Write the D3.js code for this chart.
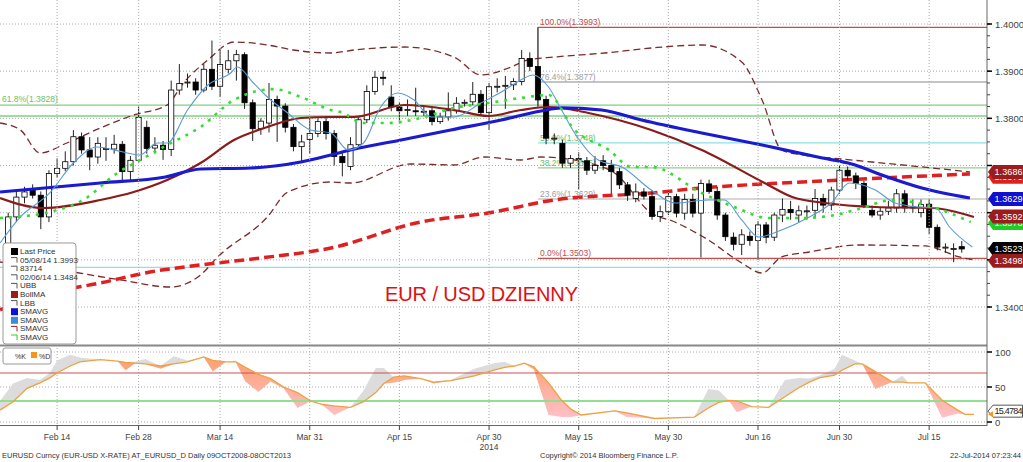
<!DOCTYPE html>
<html><head><meta charset="utf-8">
<script src="https://cdn.jsdelivr.net/npm/d3@7"></script>
<style>body{margin:0;background:#fff}svg{display:block;font-family:"Liberation Sans",Arial,sans-serif}</style>
</head><body><svg id="c" width="1023" height="462"></svg>
<script>
// ---------- DATA ----------
const open  = [1.3535,1.3591,1.3633,1.3648,1.3637,1.3591,1.3683,1.3694,1.3708,1.3761,1.3733,1.3718,1.3736,1.3735,1.3745,1.3687,1.3711,1.3781,1.3737,1.3743,1.3734,1.3860,1.3877,1.3877,1.3860,1.3904,1.3868,1.3904,1.3922,1.3935,1.3833,1.3778,1.3790,1.3840,1.3826,1.3781,1.3740,1.3755,1.3768,1.3793,1.3768,1.3719,1.3698,1.3744,1.3797,1.3857,1.3887,1.3845,1.3824,1.3819,1.3816,1.3815,1.3816,1.3793,1.3803,1.3816,1.3834,1.3835,1.3851,1.3812,1.3868,1.3870,1.3871,1.3878,1.3927,1.3910,1.3840,1.3758,1.3747,1.3705,1.3715,1.3710,1.3690,1.3710,1.3700,1.3687,1.3659,1.3630,1.3644,1.3634,1.3592,1.3602,1.3634,1.3599,1.3628,1.3599,1.3661,1.3645,1.3595,1.3548,1.3533,1.3550,1.3541,1.3574,1.3548,1.3595,1.3607,1.3595,1.3604,1.3605,1.3630,1.3616,1.3648,1.3690,1.3678,1.3662,1.3605,1.3595,1.3603,1.3610,1.3640,1.3612,1.3600,1.3618,1.3569,1.3527,1.3524,1.3528];
const high  = [1.3600,1.3650,1.3655,1.3660,1.3645,1.3690,1.3715,1.3730,1.3775,1.3770,1.3760,1.3760,1.3760,1.3765,1.3752,1.3720,1.3825,1.3795,1.3760,1.3752,1.3880,1.3915,1.3895,1.3885,1.3915,1.3965,1.3945,1.3945,1.3945,1.3940,1.3840,1.3800,1.3875,1.3848,1.3832,1.3788,1.3765,1.3800,1.3800,1.3805,1.3775,1.3730,1.3760,1.3805,1.3870,1.3900,1.3900,1.3870,1.3835,1.3840,1.3865,1.3825,1.3822,1.3812,1.3855,1.3845,1.3840,1.3877,1.3860,1.3875,1.3885,1.3890,1.3885,1.3945,1.3940,1.3993,1.3848,1.3768,1.3755,1.3722,1.3728,1.3718,1.3720,1.3722,1.3712,1.3695,1.3665,1.3662,1.3652,1.3648,1.3615,1.3645,1.3640,1.3640,1.3640,1.3670,1.3670,1.3655,1.3600,1.3558,1.3565,1.3560,1.3582,1.3580,1.3600,1.3630,1.3625,1.3615,1.3615,1.3650,1.3640,1.3655,1.3700,1.3698,1.3685,1.3668,1.3615,1.3612,1.3625,1.3650,1.3648,1.3628,1.3628,1.3628,1.3575,1.3535,1.3535,1.3540];
const low   = [1.3520,1.3580,1.3620,1.3630,1.3565,1.3580,1.3675,1.3688,1.3700,1.3725,1.3690,1.3704,1.3710,1.3725,1.3665,1.3665,1.3705,1.3725,1.3725,1.3712,1.3720,1.3850,1.3865,1.3850,1.3855,1.3860,1.3845,1.3895,1.3880,1.3820,1.3752,1.3765,1.3770,1.3750,1.3770,1.3730,1.3705,1.3725,1.3760,1.3755,1.3700,1.3677,1.3690,1.3735,1.3790,1.3850,1.3870,1.3815,1.3795,1.3805,1.3805,1.3805,1.3785,1.3788,1.3795,1.3810,1.3825,1.3828,1.3805,1.3775,1.3855,1.3820,1.3860,1.3870,1.3900,1.3825,1.3745,1.3745,1.3695,1.3695,1.3650,1.3680,1.3682,1.3690,1.3640,1.3650,1.3625,1.3622,1.3628,1.3585,1.3580,1.3595,1.3590,1.3585,1.3590,1.3505,1.3640,1.3585,1.3540,1.3520,1.3510,1.3530,1.3500,1.3535,1.3540,1.3580,1.3585,1.3580,1.3585,1.3590,1.3600,1.3605,1.3640,1.3670,1.3650,1.3610,1.3590,1.3585,1.3595,1.3600,1.3600,1.3600,1.3590,1.3555,1.3520,1.3515,1.3495,1.3515];
const close = [1.3591,1.3633,1.3644,1.3637,1.3591,1.3683,1.3694,1.3708,1.3761,1.3733,1.3718,1.3747,1.3736,1.3745,1.3687,1.3711,1.3802,1.3736,1.3743,1.3734,1.3860,1.3874,1.3877,1.3860,1.3904,1.3868,1.3914,1.3922,1.3935,1.3833,1.3778,1.3794,1.3840,1.3826,1.3781,1.3740,1.3750,1.3768,1.3793,1.3768,1.3719,1.3706,1.3744,1.3797,1.3857,1.3887,1.3886,1.3824,1.3816,1.3819,1.3815,1.3815,1.3793,1.3803,1.3816,1.3832,1.3834,1.3851,1.3812,1.3867,1.3868,1.3870,1.3878,1.3927,1.3910,1.3839,1.3758,1.3758,1.3705,1.3715,1.3715,1.3690,1.3700,1.3700,1.3687,1.3659,1.3637,1.3644,1.3635,1.3592,1.3602,1.3634,1.3599,1.3628,1.3599,1.3662,1.3645,1.3595,1.3549,1.3533,1.3553,1.3541,1.3574,1.3548,1.3595,1.3607,1.3600,1.3604,1.3604,1.3630,1.3616,1.3648,1.3690,1.3678,1.3662,1.3616,1.3595,1.3603,1.3610,1.3640,1.3610,1.3612,1.3617,1.3569,1.3527,1.3527,1.3524,1.3523];

const dateTickLabels = ["Feb 14","Feb 28","Mar 14","Mar 31","Apr 15","Apr 30","May 15","May 30","Jun 16","Jun 30","Jul 15"];
const dateTickIdx    = [6,16,26,37,48,59,70,81,92,102,113];

const sma55 = [[-1,1.36438],[11.3,1.36629],[19.3,1.36756],[23.6,1.36926],[29.7,1.36947],[35.9,1.37074],[39.6,1.37223],[42,1.37329],[48.2,1.37541],[54.3,1.37753],[60.5,1.37965],[65.4,1.38156],[67.9,1.3822],[72.8,1.38177],[77.7,1.37965],[85.1,1.37689],[92.5,1.37435],[99.9,1.37159],[103.5,1.37032],[107.2,1.36798],[112.1,1.36523],[118,1.36311]];
const sma200 = [[-1,1.33937],[5.1,1.34297],[11.3,1.34509],[17.4,1.34742],[23.6,1.34891],[31,1.35039],[39.6,1.35251],[50.6,1.35802],[58.9,1.35993],[67,1.36269],[78.9,1.36417],[85.1,1.36523],[97.4,1.3665],[109.7,1.36756],[118,1.3682]];
const bollMA = [[-1,1.36311],[4.3,1.36099],[11.3,1.36269],[15.4,1.36438],[19.5,1.36693],[23.6,1.37053],[27.7,1.37541],[31.8,1.37816],[35.9,1.38007],[39.6,1.38028],[42.4,1.38028],[48.6,1.38283],[54.7,1.38177],[58.9,1.3805],[62.9,1.38177],[66.3,1.3824],[71.2,1.38113],[78.9,1.37753],[85.1,1.37329],[92.8,1.36629],[96.2,1.36332],[100.2,1.36205],[106.4,1.3612],[113.4,1.36099],[118.5,1.35909]];
const upperBB = [[-1,1.37901],[1.5,1.37753],[3.9,1.37265],[7.2,1.37477],[11.3,1.37795],[15.4,1.38071],[19.5,1.38283],[21.5,1.38749],[24.5,1.39237],[27.7,1.39618],[31.8,1.39555],[35,1.39449],[39.6,1.39385],[42.4,1.39449],[48.6,1.39512],[54.7,1.393],[58,1.38919],[61.4,1.39067],[63.8,1.39237],[67,1.393],[73.2,1.39385],[78.9,1.39491],[85.1,1.39555],[90,1.39194],[92.5,1.38389],[94.9,1.37329],[97.4,1.37223],[101,1.37159],[106,1.37074],[113.4,1.36947],[118,1.36862]];
const lowerBB = [[-1,1.34954],[6.4,1.34785],[13.8,1.34573],[19.9,1.34424],[23.6,1.34679],[25.7,1.35061],[31.8,1.35909],[34.3,1.36438],[39.6,1.3665],[42,1.36629],[49.4,1.37032],[54.7,1.37011],[58.4,1.3718],[62.9,1.37117],[65.4,1.3718],[71.2,1.37053],[74.4,1.36841],[78.9,1.35993],[81.8,1.35802],[85.9,1.35421],[90,1.34933],[92.5,1.34721],[94.9,1.35061],[98.3,1.35166],[104.4,1.35315],[112.5,1.35294],[116.7,1.35061],[118.5,1.34997]];
const sma5 = [[-1,1.35357],[1.5,1.35909],[5.1,1.36417],[8,1.37053],[10.9,1.37392],[14.1,1.37286],[16.2,1.37223],[18.3,1.37477],[19.5,1.37477],[22,1.38177],[24.5,1.38707],[27.3,1.38961],[28.1,1.39088],[30.1,1.38749],[31.8,1.38452],[34.3,1.38113],[37.1,1.37753],[39.6,1.37689],[41.7,1.37329],[43.6,1.37477],[45.7,1.3824],[47.8,1.38537],[49.8,1.38389],[51.9,1.38028],[54.7,1.38028],[58,1.38325],[60.5,1.38558],[62.9,1.38813],[64.4,1.38919],[66.3,1.38664],[67.9,1.38177],[69.5,1.37689],[72.4,1.37117],[75.3,1.36968],[78.9,1.36481],[81.8,1.36205],[85.9,1.36269],[87.9,1.36269],[90,1.35845],[92.1,1.35484],[94.9,1.35633],[98.3,1.35909],[101,1.36205],[103.2,1.36629],[106.4,1.36481],[108.8,1.36205],[111.8,1.3612],[113.8,1.36099],[115.5,1.35696],[118.3,1.35272]];
const sma21 = [[-1,1.35887],[5.1,1.36014],[9.2,1.36269],[13.4,1.36841],[16.2,1.37117],[19.5,1.37435],[23.6,1.37816],[27.7,1.38389],[32.6,1.3862],[35.9,1.38452],[39.6,1.38177],[40.8,1.38134],[43.6,1.37901],[46.6,1.37901],[50.6,1.38007],[54.7,1.38219],[58.9,1.38325],[62.9,1.38431],[66.3,1.38495],[69.5,1.37753],[73.7,1.37329],[76.5,1.36968],[78.9,1.36968],[85.1,1.36417],[89.1,1.3612],[93.3,1.35887],[97.4,1.35887],[101.5,1.35951],[104.8,1.36099],[108.5,1.36269],[113.4,1.3612],[118.1,1.35803]];

const stochIdx = [-1,0.6,2.3,3.9,5.1,6,7.6,8.8,11.3,13.4,14.4,15.6,16.8,18.7,20.3,22,24,25.1,26.7,27.9,29.1,30.7,32.2,33.8,35.5,37.1,38.6,40,42,43.6,45.1,46.1,47.3,48.6,50.6,52.2,54.3,57.2,59.6,60.9,62.1,63.3,64.5,66.3,67.9,69.1,70.3,74.4,75.9,79.3,84.2,85.9,87.2,88.4,89.4,91.2,93.3,95.3,97,98.3,99.5,101.4,102.3,103.9,104.8,106.4,108.5,109.7,110.5,112.5,114.6,116.5,117.4,118.5];
const stochD = [17,29,48,56,63,70,80,86,89,87,85,84,83,80,83,86,93,88,86,86,78,68,62,50,42,30,25,23,21,29,42,55,64,66,62,57,59,66,74,78,80,84,79,56,31,18,10,16,13,5,7,20,28,31,30,22,21,36,49,57,63,67,74,83,83,72,57,57,56,56,31,17,11,11];
const stochK = [30,55,63,60,70,88,96,92,89,87,74,86,90,76,94,88,93,72,86,88,58,43,58,48,20,30,24,10,21,45,77,77,56,60,62,55,60,76,84,86,80,84,75,10,7,7,10,16,7,5,7,47,45,31,14,22,21,60,63,62,66,76,96,88,83,47,57,66,56,56,6,12,11,11];

const priceTicks = [1.34,1.35,1.36,1.37,1.38,1.39,1.40];
const fibLines = [
  {p:1.3993,c:"#c0504d",from:65,label:"100.0%(1.3993)"},
  {p:1.3877,c:"#b0b0b0",from:65,label:"76.4%(1.3877)"},
  {p:1.3828,c:"#7fd07f",from:-2,label:""},
  {p:1.3805,c:"#7fd07f",from:-2,label:""},
  {p:1.3748,c:"#8fe0e8",from:65,label:"50.0%(1.3748)"},
  {p:1.3695,c:"#8fd08f",from:65,label:"38.2%(1.3695)"},
  {p:1.3629,c:"#c8c8c8",from:65,label:"23.6%(1.3629)"},
  {p:1.3503,c:"#c0504d",from:65,label:"0.0%(1.3503)"},
  {p:1.3484,c:"#8fe0e8",from:-2,label:""}];
const priceBoxes = [
  {p:1.3676,c:"#e0201a",t:"1.3676"},
  {p:1.3686,c:"#9b1c1c",t:"1.3686"},
  {p:1.3629,c:"#1010d0",t:"1.3629"},
  {p:1.3578,c:"#22cc22",t:"1.3578"},
  {p:1.3592,c:"#9b1c1c",t:"1.3592"},
  {p:1.3523,c:"#000000",t:"1.3523"},
  {p:1.3498,c:"#9b1c1c",t:"1.3498"}];
const legendItems = ["Last Price","05/08/14 1.3993","83714","02/06/14 1.3484","UBB","BollMA","LBB","SMAVG","SMAVG","SMAVG","SMAVG"];

// ---------- DRAW ----------
const svg = d3.select("#c");
const R = 987;
const x = d3.scaleLinear().domain([0,113]).range([8.2, 8.2+113*8.15]);
const y = d3.scaleLinear().domain([1.34,1.40]).range([307,24]);
const ys = d3.scaleLinear().domain([0,100]).range([422,352]);

const defs = svg.append("defs");
defs.append("clipPath").attr("id","cm").append("rect").attr("x",0).attr("y",0).attr("width",R).attr("height",345);
defs.append("clipPath").attr("id","cs").append("rect").attr("x",0).attr("y",347).attr("width",R).attr("height",78);
const gr = defs.append("linearGradient").attr("id","pk").attr("x1",0).attr("y1",0).attr("x2",0).attr("y2",1);
gr.append("stop").attr("offset","0").attr("stop-color","#fba070");
gr.append("stop").attr("offset","1").attr("stop-color","#ffc0c8");

const gm = svg.append("g").attr("clip-path","url(#cm)");
priceTicks.forEach(p=>gm.append("line").attr("x1",0).attr("x2",R).attr("y1",y(p)).attr("y2",y(p)).attr("stroke","#aaa").attr("stroke-dasharray","1,2"));
dateTickIdx.forEach(i=>{
  svg.append("line").attr("x1",x(i)).attr("x2",x(i)).attr("y1",0).attr("y2",425).attr("stroke","#aaa").attr("stroke-dasharray","1,2");
});
[0,50,100].forEach(v=>svg.append("line").attr("x1",0).attr("x2",R).attr("y1",ys(v)).attr("y2",ys(v)).attr("stroke","#aaa").attr("stroke-dasharray","1,2"));

fibLines.forEach(f=>{
  gm.append("line").attr("x1",x(f.from)).attr("x2",R).attr("y1",y(f.p)).attr("y2",y(f.p)).attr("stroke",f.c).attr("stroke-width",1.3);
  if(f.label) gm.append("text").attr("x",x(f.from)+2).attr("y",y(f.p)-2).attr("font-size",8.5).attr("fill",f.c==="#c0504d"?"#c0504d":(f.c==="#b0b0b0"||f.c==="#c8c8c8"?"#a0a0a0":"#6cc06c")).text(f.label);
});
gm.append("text").attr("x",2).attr("y",y(1.3828)-3).attr("font-size",8.5).attr("fill","#6cc06c").text("61.8%(1.3828)");
gm.append("line").attr("x1",x(65)).attr("x2",x(65)).attr("y1",y(1.3993)).attr("y2",y(1.3825)).attr("stroke","#888");

const line = d3.line().x(d=>x(d[0])).y(d=>y(d[1])).curve(d3.curveMonotoneX);
const L = (data,st,w,dash)=>gm.append("path").attr("d",line(data)).attr("fill","none").attr("stroke",st).attr("stroke-width",w).attr("stroke-dasharray",dash||null);
L(upperBB,"#7a2a2a",1.3,"7,4");
L(lowerBB,"#7a2a2a",1.3,"7,4");
L(sma200,"#e02020",3.5,"10,5");

const cw = 5.2;
d3.range(open.length).forEach(i=>{
  const cx = x(i), up = close[i]>=open[i];
  gm.append("line").attr("x1",cx).attr("x2",cx).attr("y1",y(high[i])).attr("y2",y(low[i])).attr("stroke","#222").attr("stroke-width",1);
  const t = y(Math.max(open[i],close[i])), b = y(Math.min(open[i],close[i]));
  gm.append("rect").attr("x",cx-cw/2).attr("y",t).attr("width",cw).attr("height",Math.max(1,b-t))
    .attr("fill",up?"#fff":"#000").attr("stroke","#000").attr("stroke-width",0.8);
});

L(bollMA,"#8b1a1a",2.2);
L(sma55,"#1a1ad0",3.2);
L(sma5,"#5b9bd5",1.1);
L(sma21,"#33dd33",2.6,"3,6");

svg.append("text").attr("x",385).attr("y",301).attr("font-size",20).attr("fill","#e01010").attr("textLength",193).text("EUR / USD DZIENNY");

const lg = svg.append("g");
lg.append("rect").attr("x",3).attr("y",243).attr("width",73).attr("height",101).attr("rx",3).attr("fill","#fff").attr("stroke","#999");
const icons = ["#000","none","none","none","none","#9b1c1c","none","#1010d0","#3a8ee0","none","none"];
legendItems.forEach((t,k)=>{
  const yy = 254+k*8.6;
  if(icons[k]!=="none") lg.append("rect").attr("x",11).attr("y",yy-6).attr("width",7).attr("height",7).attr("fill",icons[k]);
  else lg.append("path").attr("d",`M11,${yy-5}h6v5`).attr("fill","none").attr("stroke",k>=9?(k===10?"#33cc33":"#9b1c1c"):"#555");
  lg.append("text").attr("x",20).attr("y",yy).attr("font-size",8).attr("fill","#333").text(t);
});

svg.append("rect").attr("x",0).attr("y",344.5).attr("width",R).attr("height",2).attr("fill","#888");

const gs = svg.append("g").attr("clip-path","url(#cs)");
const sd = stochIdx.map((i,k)=>({i,k:stochK[k],d:stochD[k]}));
gs.append("path").attr("d",d3.area().x(d=>x(d.i)).y0(d=>ys(d.d)).y1(d=>ys(Math.max(d.k,d.d)))(sd)).attr("fill","#dcdcdc");
gs.append("path").attr("d",d3.area().x(d=>x(d.i)).y0(d=>ys(d.d)).y1(d=>ys(Math.min(d.k,d.d)))(sd)).attr("fill","url(#pk)");
gs.append("line").attr("x1",0).attr("x2",R).attr("y1",ys(70)).attr("y2",ys(70)).attr("stroke","#d05050").attr("stroke-width",1.2);
gs.append("line").attr("x1",0).attr("x2",R).attr("y1",ys(30)).attr("y2",ys(30)).attr("stroke","#90e090").attr("stroke-width",2);
gs.append("path").attr("d",d3.line().x(d=>x(d.i)).y(d=>ys(d.d))(sd)).attr("fill","none").attr("stroke","#f0a040").attr("stroke-width",1.3);
const sl = svg.append("g");
sl.append("rect").attr("x",3).attr("y",348).attr("width",48).attr("height",16).attr("rx",2).attr("fill","#fff").attr("stroke","#999");
sl.append("rect").attr("x",31).attr("y",352).attr("width",6).attr("height",6).attr("fill","#f7941d");
sl.append("text").attr("x",15).attr("y",359).attr("font-size",7).attr("fill","#333").text("%K");
sl.append("text").attr("x",39).attr("y",359).attr("font-size",7).attr("fill","#333").text("%D");

svg.append("line").attr("x1",R).attr("x2",R).attr("y1",0).attr("y2",426).attr("stroke","#666");
svg.append("line").attr("x1",0).attr("x2",R).attr("y1",425.5).attr("y2",425.5).attr("stroke","#666");
d3.range(1.34,1.4001,0.0025).forEach(p=>svg.append("line").attr("x1",R).attr("x2",R+3).attr("y1",y(p)).attr("y2",y(p)).attr("stroke","#444"));
priceTicks.forEach(p=>{
  svg.append("line").attr("x1",R).attr("x2",R+5).attr("y1",y(p)).attr("y2",y(p)).attr("stroke","#000").attr("stroke-width",1.5);
  if (![1.35,1.36,1.37].includes(p))
    svg.append("text").attr("x",R+8).attr("y",y(p)+3.5).attr("font-size",9.5).attr("fill","#444").text(p.toFixed(4));
});
[0,50,100].forEach(v=>{
  svg.append("line").attr("x1",R).attr("x2",R+5).attr("y1",ys(v)).attr("y2",ys(v)).attr("stroke","#000").attr("stroke-width",1.5);
  svg.append("text").attr("x",R+8).attr("y",ys(v)+3.5).attr("font-size",9.5).attr("fill","#444").text(v);
});
priceBoxes.forEach(b=>{
  const yy=y(b.p);
  svg.append("path").attr("d",`M${R+1},${yy} l5,-7 h30 v14 h-30 z`).attr("fill",b.c);
  svg.append("text").attr("x",R+7.5).attr("y",yy+3.3).attr("font-size",9).attr("textLength",28).attr("fill","#fff").text(b.t);
});
{
  const yy=ys(15.4784);
  svg.append("path").attr("d",`M${R+1},${yy} l5,-6 h29.5 v12 h-29.5 z`).attr("fill","#fff").attr("stroke","#555");
  svg.append("text").attr("x",R+7.5).attr("y",yy+3.3).attr("font-size",9).attr("textLength",28).attr("fill","#222").text("15.4784");
  svg.append("path").attr("d",`M${R+1},${ys(11)} l5,-3 v6 z`).attr("fill","#f7941d");
}

dateTickIdx.forEach((i,k)=>{
  svg.append("line").attr("x1",x(i)).attr("x2",x(i)).attr("y1",425).attr("y2",430).attr("stroke","#444");
  svg.append("text").attr("x",x(i)).attr("y",440).attr("text-anchor","middle").attr("font-size",8.5).attr("fill","#444").text(dateTickLabels[k]);
});
svg.append("text").attr("x",x(59)).attr("y",450).attr("text-anchor","middle").attr("font-size",8.5).attr("fill","#444").text("2014");
svg.append("text").attr("x",2).attr("y",458).attr("font-size",7.5).attr("fill","#333").text("EURUSD Curncy (EUR-USD X-RATE) AT_EURUSD_D  Daily 09OCT2008-08OCT2013");
svg.append("text").attr("x",540).attr("y",458).attr("font-size",7.5).attr("fill","#333").text("Copyright© 2014 Bloomberg Finance L.P.");
svg.append("text").attr("x",1021).attr("y",458).attr("text-anchor","end").attr("font-size",7.5).attr("fill","#333").text("22-Jul-2014 07:23:44");
</script></body></html>
